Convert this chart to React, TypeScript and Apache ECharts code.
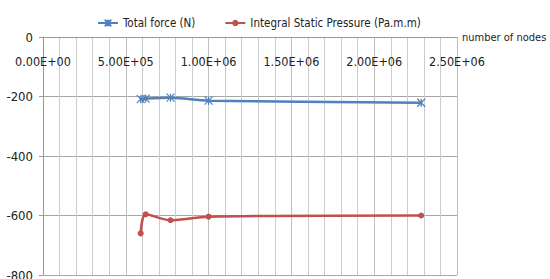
import React, { useEffect, useRef } from "react";
import * as echarts from "echarts";

const nodes = [590000, 620000, 770000, 1000000, 2284000];
const totalForce = [-209, -207, -204, -214, -221];
const staticPressure = [-660, -596, -616, -604, -600];
const seriesNames = ["Total force (N)", "Integral Static Pressure (Pa.m.m)"];
const xTitle = "number of nodes";

const FONT = "'DejaVu Sans Condensed', 'Liberation Sans', sans-serif";
const STAR = "path://M0,0L10,10M10,0L0,10M5,0L5,10";

export default function App() {
  const ref = useRef<HTMLDivElement>(null);
  useEffect(() => {
    if (!ref.current) return;
    const chart = echarts.init(ref.current, undefined, { renderer: "svg" });
    chart.setOption({
      animation: false,
      textStyle: { fontFamily: FONT },
      legend: {
        top: 12,
        left: 92,
        itemGap: 29,
        itemWidth: 20,
        itemHeight: 8,
        textStyle: { fontFamily: FONT, fontSize: 11.5, color: "#222" },
        data: seriesNames,
      },
      grid: { left: 43, right: 93, top: 37, bottom: 4, containLabel: false, outerBoundsMode: "none" },
      xAxis: {
        type: "value",
        position: "top",
        min: 0,
        max: 2500000,
        interval: 500000,
        name: xTitle,
        nameLocation: "end",
        nameGap: 5,
        nameTextStyle: { fontFamily: FONT, fontSize: 11, color: "#222", padding: [0, 0, 10, 0] },
        axisLine: { show: true, onZero: false, lineStyle: { color: "#999", width: 1 } },
        axisTick: { show: false },
        axisLabel: {
          inside: true,
          margin: 18,
          fontFamily: FONT,
          fontSize: 12.5,
          color: "#222",
          formatter: (v: number) => {
            const e = v === 0 ? 0 : Math.floor(Math.log10(v));
            const m = v === 0 ? 0 : v / Math.pow(10, e);
            return m.toFixed(2) + "E+" + String(e).padStart(2, "0");
          },
        },
        splitLine: { show: true, lineStyle: { color: "#bfbfbf", width: 1 } },
        minorSplitLine: { show: true, lineStyle: { color: "#cccccc", width: 1 } },
        minorTick: { show: false, splitNumber: 5 },
      },
      yAxis: {
        type: "value",
        min: -800,
        max: 0,
        interval: 200,
        axisLine: { show: true, lineStyle: { color: "#999", width: 1 } },
        axisTick: { show: true, length: 4, lineStyle: { color: "#999" } },
        axisLabel: { fontFamily: FONT, fontSize: 13, color: "#222", margin: 10 },
        splitLine: { show: true, lineStyle: { color: "#a6a6a6", width: 1 } },
      },
      series: [
        {
          name: seriesNames[0],
          type: "line",
          smooth: 0.3,
          data: nodes.map((x, i) => [x, totalForce[i]]),
          symbol: STAR,
          symbolSize: 8,
          lineStyle: { color: "#4f81bd", width: 2.5 },
          itemStyle: { color: "#4f81bd", borderColor: "#4f81bd", borderWidth: 1.2 },
        },
        {
          name: seriesNames[1],
          type: "line",
          smooth: 0.3,
          data: nodes.map((x, i) => [x, staticPressure[i]]),
          symbol: "circle",
          symbolSize: 6,
          lineStyle: { color: "#c0504d", width: 2.5 },
          itemStyle: { color: "#c0504d" },
        },
      ],
    });
    return () => chart.dispose();
  }, []);
  return <div ref={ref} style={{ width: 550, height: 279, position: "absolute", left: 0, top: 0 }} />;
}
